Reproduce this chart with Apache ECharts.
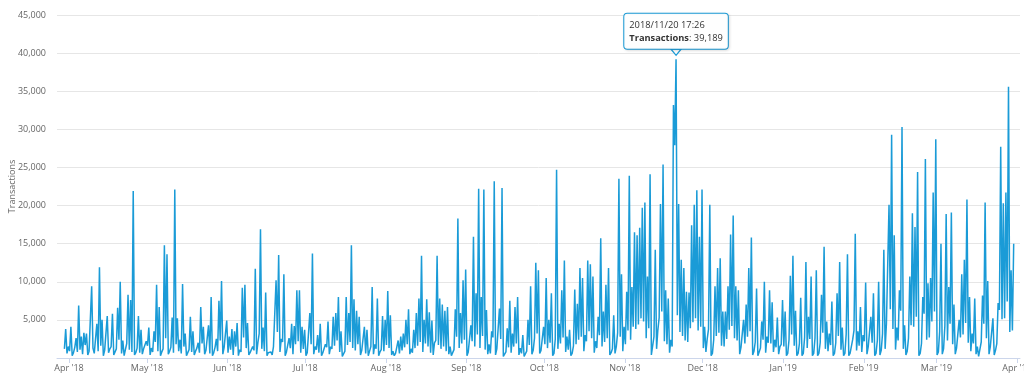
<!DOCTYPE html>
<html>
<head>
<meta charset="utf-8">
<script src="https://cdn.jsdelivr.net/npm/echarts@6/dist/echarts.min.js"></script>
<style>
html,body{margin:0;padding:0;background:#fff;}
#chart{width:1024px;height:382px;}
</style>
</head>
<body>
<div id="chart"></div>
<script>
// ---- data ----
const seriesName = 'Transactions';
// samples twice a day: a morning reading (05:26) and an evening reading (17:26), from 2018-03-30
const startYear = 2018, startMonth = 2, startDay = 30;
const morningHour = 5, eveningHour = 17, sampleMinute = 26;
const monthNames = ['Jan','Feb','Mar','Apr','May','Jun','Jul','Aug','Sep','Oct','Nov','Dec'];
const yTickValues = [0, 5000, 10000, 15000, 20000, 25000, 30000, 35000, 40000, 45000];

// evening readings
const eveningAprMay = [
  3800,1500,4100,700,2600,6900,2800,3300,3200,900,
  9400,600,4500,11900,5000,1000,5500,1200,5800,800,
  6600,10000,2300,1100,8300,7600,21900,700,5500,3700,
  1200,2200,4000,1300,3500,9600,6700,800,14800,13600,
  900,5300,22100,5200
];
const eveningMayJun = [
  2400,9700,3200,700,5400,3500,900,2000,6700,4100,
  1000,4300,8000,700,2500,7500,10100,1400,4900,2800,
  3800,3500,4600,1100,9200,9600,4600,700,1500,11700,
  2000,16900,4000,8600,700,800,1500,10200,13500,2500,
  11000,800,2600,4500,4200,8900
];
const eveningJulAug = [
  8900,4100,3700,700,5900,13700,1500,3000,4500,700,
  1800,4800,1500,5400,5900,8000,3500,300,8000,5900,
  14800,7700,6200,5400,1000,4100,3700,900,9300,1800,
  7800,800,5500,5000,8800,5600,900,600,2300,2800,
  3200,5000,6400,1200,3700,5900
];
const eveningAugSep = [
  7800,13400,5000,7700,6000,4900,2000,13400,7800,7000,
  6200,6700,1500,700,6400,18300,5900,10200,11600,800,
  4300,15900,8500,22200,8000,22100,6300,1800,3500,23200,
  1200,6500,22300,500,3900,7500,3200,6700,8000,1300,
  3000,400,5000,9400,1000,12500,11500
];
const eveningOctNov = [
  1000,4100,10500,5000,8500,600,24700,4500,8900,12800,
  2800,3700,600,9000,7100,11800,10500,3000,12800,12300,
  10700,2200,5400,15700,6100,9600,11800,700,5600,1500,
  23500,11000,4100,8700,23900,9300,16500,16100,17100,19700,
  20400,10700,24100,600,14200,3700
];
const eveningNovDec = [
  20200,25400,8900,7800,2400,33200,39189,20200,12900,11800,
  8700,8600,17400,20100,22000,15900,22100,4100,2500,20100,
  600,9400,11800,13100,6100,6100,9400,16200,18700,9400,
  8900,1400,5000,7000,11800,15800,900,9100,800,4800,
  10000,2800,8900,7300,2400,5300
];
const eveningJanFeb = [
  1500,7600,6100,600,10800,13400,6200,600,7900,600,
  12600,5400,10700,600,11500,600,8300,14600,4800,3200,
  7400,600,8500,12600,4000,600,13600,600,2400,16300,
  3500,6700,3000,9900,1500,5400,8500,600,10000,1000,
  14200,4500,20100,29300,16100,4000
];
const eveningFebMar = [
  8900,30300,4300,900,10700,19000,17200,24400,600,8000,
  26100,9800,10500,21700,28700,800,15000,1200,18900,9300,
  19100,7000,1300,5000,11000,12900,20800,8000,3200,7800,
  1500,300,8200,20400,10100,1500,5200,1000,7200,27700,
  20300,21700,35600,11500,15000
];

// morning readings
const morningAprMay = [
  1200,600,900,300,1400,800,1100,500,1700,400,
  700,1300,500,900,1600,300,1000,700,1500,400,
  1200,2400,600,300,1900,1100,800,400,1300,700,
  500,1000,1600,400,800,2100,900,300,1200,2600,
  500,1400,700,1800
];
const morningMayJun = [
  900,600,1500,300,1100,800,400,1300,700,1900,
  500,1000,600,300,1400,900,2300,500,1200,700,
  1100,400,1500,300,800,2700,1300,400,600,1000,
  500,3200,1200,900,300,600,400,1500,3400,800,
  2100,300,700,1300,500,1800
];
const morningJulAug = [
  2200,700,1200,300,900,1800,500,1100,700,300,
  800,1400,500,1200,1600,2300,800,200,900,1700,
  2100,1300,1000,1800,400,900,600,300,1500,500,
  1200,300,1100,900,1700,1300,400,300,800,600,
  1000,1400,1800,500,700,1300
];
const morningAugSep = [
  1600,2100,800,1900,1500,700,400,2300,1700,1200,
  1500,900,500,300,1100,2800,1300,1900,2400,300,
  700,2200,1500,3100,1300,2900,1100,500,600,2700,
  400,1200,2500,200,800,1400,700,1500,1900,400,
  600,200,900,1700,500,2600,3200
];
const morningOctNov = [
  600,900,1800,1300,2000,300,2500,1200,1900,2700,
  800,1100,300,1600,1800,2400,2800,900,2200,3500,
  2600,700,1300,3000,1500,2100,2600,400,1200,600,
  3300,2800,900,1800,3600,2400,4100,3800,4400,5200,
  4800,2600,3900,400,2800,1200
];
const morningNovDec = [
  5300,6100,2200,1800,700,1500,27900,5600,3400,2900,
  2300,2100,3900,4700,5200,3600,4100,1300,800,3800,
  300,2400,2900,3300,1600,1500,2500,3700,4200,2600,
  2300,500,1400,1900,2800,3500,400,2100,300,1300,
  2400,700,2000,1900,800,1400
];
const morningJanFeb = [
  500,1800,1500,300,2400,3100,1600,300,1900,300,
  2700,1300,2500,300,2600,300,2000,3300,1200,900,
  1700,300,2000,2900,1100,300,3100,300,700,3600,
  1000,1600,800,2200,500,1400,2000,300,2300,400,
  3200,1200,4300,6400,3800,1100
];
const morningFebMar = [
  2300,6200,1200,400,2600,4300,4100,5400,300,1900,
  5800,2400,2700,4800,6100,400,3500,500,4200,2300,
  4500,1800,500,1300,2700,3100,4600,2000,900,1900,
  500,200,2100,4500,2600,500,1400,400,1900,6300,
  5100,5200,7400,3400,3600
];

const evening = [].concat(eveningAprMay, eveningMayJun, eveningJulAug, eveningAugSep,
  eveningOctNov, eveningNovDec, eveningJanFeb, eveningFebMar);
const morning = [].concat(morningAprMay, morningMayJun, morningJulAug, morningAugSep,
  morningOctNov, morningNovDec, morningJanFeb, morningFebMar);

const points = [];
evening.forEach((v, i) => {
  points.push([new Date(startYear, startMonth, startDay + i, morningHour, sampleMinute).getTime(), morning[i]]);
  points.push([new Date(startYear, startMonth, startDay + i, eveningHour, sampleMinute).getTime(), v]);
});

// ---- styles ----
const lineColor = '#1a9bd7';
const labelColor = '#666666';
const fontFamily = 'Open Sans, sans-serif';

const pad = n => String(n).padStart(2, '0');
const fmtTime = t => {
  const d = new Date(t);
  return d.getFullYear() + '/' + pad(d.getMonth() + 1) + '/' + pad(d.getDate()) + ' ' +
    pad(d.getHours()) + ':' + pad(d.getMinutes());
};

let peak = points[0];
points.forEach(p => { if (p[1] > peak[1]) peak = p; });

const chart = echarts.init(document.getElementById('chart'), null, {renderer: 'canvas'});
chart.setOption({
  animation: false,
  grid: {left: 57, right: 4, top: 15, bottom: 24, containLabel: false, outerBoundsMode: 'none'},
  xAxis: {
    type: 'time',
    min: new Date(2018, 2, 27, 9, 7).getTime(),
    max: new Date(2019, 3, 2, 3, 43).getTime(),
    minInterval: 28 * 864e5,
    maxInterval: 31 * 864e5,
    splitNumber: 12,
    axisLine: {show: true, lineStyle: {color: '#ccd6eb', width: 1}},
    axisTick: {show: true, length: 5, lineStyle: {color: '#ccd6eb'}},
    splitLine: {show: false},
    axisLabel: {
      color: labelColor, fontSize: 9, fontFamily: fontFamily, margin: 6, hideOverlap: false,
      formatter: v => {
        const d = new Date(v);
        return monthNames[d.getMonth()] + " '" + String(d.getFullYear()).slice(2);
      }
    }
  },
  yAxis: {
    type: 'value',
    min: yTickValues[0],
    max: yTickValues[yTickValues.length - 1],
    interval: yTickValues[1] - yTickValues[0],
    name: seriesName,
    nameLocation: 'middle',
    nameGap: 40,
    nameMoveOverlap: false,
    nameTextStyle: {color: labelColor, fontSize: 9, fontFamily: fontFamily},
    axisLine: {show: false},
    axisTick: {show: false},
    splitLine: {lineStyle: {color: '#e6e6e6', width: 1}},
    axisLabel: {
      color: labelColor, fontSize: 9, fontFamily: fontFamily, margin: 11,
      formatter: v => v === 0 ? '' : v.toLocaleString('en-US')
    }
  },
  series: [{
    name: seriesName,
    type: 'line',
    data: points,
    showSymbol: false,
    sampling: null,
    lineStyle: {color: lineColor, width: 1.5},
    itemStyle: {color: lineColor},
    markPoint: {
      silent: true,
      animation: false,
      data: [
        {
          coord: peak,
          symbol: 'triangle', symbolRotate: 180, symbolSize: [10, 6], symbolOffset: [0, -7],
          itemStyle: {color: '#ffffff', borderColor: lineColor, borderWidth: 1},
          label: {show: false}
        },
        {
          coord: peak,
          symbol: 'circle', symbolSize: 1,
          itemStyle: {color: 'rgba(0,0,0,0)'},
          label: {
            show: true, position: 'top', distance: 10,
            backgroundColor: 'rgba(255,255,255,0.96)',
            borderColor: lineColor, borderWidth: 1, borderRadius: 3,
            padding: [5, 5, 4, 5],
            shadowColor: 'rgba(0,0,0,0.12)', shadowBlur: 3, shadowOffsetX: 1, shadowOffsetY: 1,
            formatter: () => '{t|' + fmtTime(peak[0]) + '}\n{b|' + seriesName + '}{v|: ' +
              peak[1].toLocaleString('en-US') + '}',
            rich: {
              t: {fontSize: 9.3, color: '#333333', fontFamily: fontFamily, lineHeight: 13, align: 'left'},
              b: {fontSize: 9.3, color: '#333333', fontWeight: 'bold', fontFamily: fontFamily, lineHeight: 13, align: 'left'},
              v: {fontSize: 9.3, color: '#333333', fontFamily: fontFamily, lineHeight: 13, align: 'left'}
            }
          }
        }
      ]
    }
  }]
});
</script>
</body>
</html>
